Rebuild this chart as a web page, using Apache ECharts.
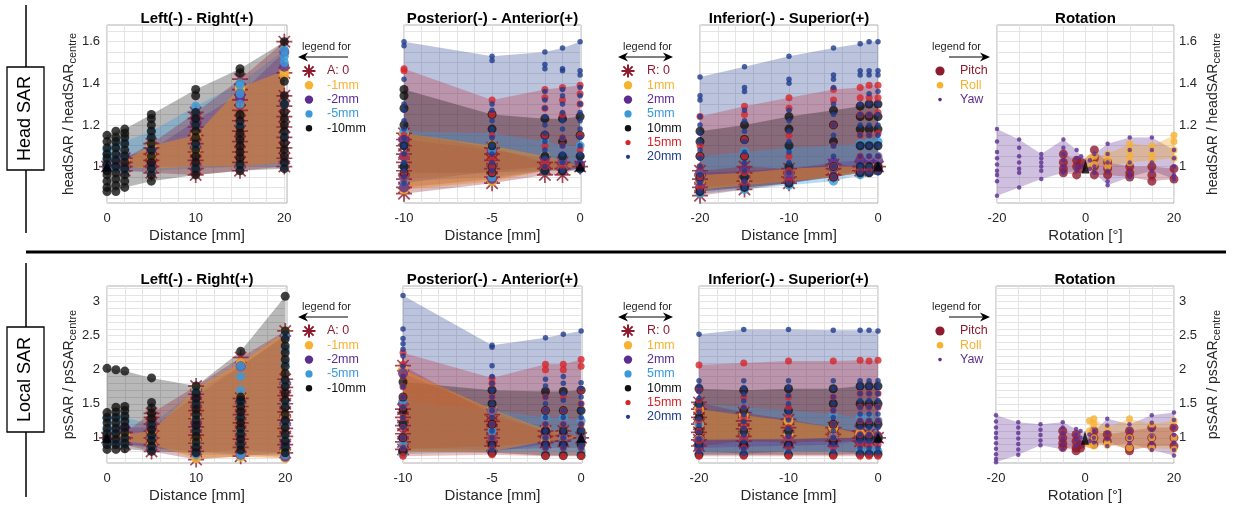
<!DOCTYPE html>
<html>
<head>
<meta charset="utf-8">
<script src="https://cdn.jsdelivr.net/npm/echarts@6.0.0/dist/echarts.min.js"></script>
<style>
html, body { margin: 0; padding: 0; background: #fff; }
#chart { width: 1237px; height: 510px; }
</style>
</head>
<body>
<div id="chart"></div>
<script>
// ---- tick labels / grid line positions ----
const xLabelsLR = [0, 10, 20];
const xLabelsPA = [-10, -5, 0];
const xLabelsIS = [-20, -10, 0];
const xLabelsRot = [-20, 0, 20];
const yLabelsHead = [1, 1.2, 1.4, 1.6];
const yLabelsLocal = [1, 1.5, 2, 2.5, 3];
const xGridLR = [0, 2, 4, 6, 8, 10, 12, 14, 16, 18, 20];
const xGridPA = [-10, -9, -8, -7, -6, -5, -4, -3, -2, -1, 0];
const xGridIS = [-20, -18, -16, -14, -12, -10, -8, -6, -4, -2, 0];
const xGridRot = [-20, -15, -10, -5, 0, 5, 10, 15, 20];
const yGridHead = [0.85, 0.9, 0.95, 1, 1.05, 1.1, 1.15, 1.2, 1.25, 1.3, 1.35, 1.4, 1.45, 1.5, 1.55, 1.6, 1.65];
const yGridLocal = [0.7, 0.8, 0.9, 1, 1.1, 1.2, 1.3, 1.4, 1.5, 1.6, 1.7, 1.8, 1.9, 2, 2.1, 2.2, 2.3, 2.4, 2.5, 2.6, 2.7, 2.8, 2.9, 3, 3.1, 3.2];

const titles = ['Left(-) - Right(+)', 'Posterior(-) - Anterior(+)', 'Inferior(-) - Superior(+)', 'Rotation'];
const xNames = ['Distance [mm]', 'Distance [mm]', 'Distance [mm]', 'Rotation [°]'];

const legendLR = [['A: 0', 'a0'], ['-1mm', 'm1'], ['-2mm', 'm2'], ['-5mm', 'm5'], ['-10mm', 'm10']];
const legendDist = [['R: 0', 'a0'], ['1mm', 'm1'], ['2mm', 'm2'], ['5mm', 'm5'], ['10mm', 'm10'], ['15mm', 'm15'], ['20mm', 'm20']];
const legendRot = [['Pitch', 'pitch'], ['Roll', 'roll'], ['Yaw', 'yaw']];

const centreX = [0];
const centreY = [1];

// ---- head SAR, left/right ----
const headLR_x = [0, 1, 2, 5, 10, 15, 20];
const headLR_a0 = [[1.0], [], [0.98, 1.0, 1.02, 1.04], [0.97, 1.0, 1.03, 1.06, 1.09, 1.11], [0.96, 0.99, 1.03, 1.07, 1.11, 1.15, 1.19, 1.23, 1.26], [0.98, 1.02, 1.07, 1.12, 1.17, 1.22, 1.27, 1.32, 1.37, 1.42], [1.0, 1.04, 1.09, 1.14, 1.19, 1.24, 1.29, 1.34, 1.45, 1.6]];
const headLR_1 = [[1.0], [1.01], [1.0, 1.03], [0.99, 1.05, 1.1], [1.0, 1.08, 1.15], [1.0, 1.2, 1.37, 1.38], [1.02, 1.3, 1.44, 1.46]];
const headLR_2 = [[1.0], [1.0, 1.03], [1.0, 1.05], [1.0, 1.08], [1.0, 1.1, 1.2, 1.22], [1.0, 1.2, 1.33, 1.35], [1.02, 1.3, 1.48, 1.55]];
const headLR_5 = [[0.98, 1.0, 1.03, 1.06, 1.08], [0.99, 1.04, 1.1], [0.98, 1.05, 1.12], [0.98, 1.08, 1.14, 1.17], [0.99, 1.1, 1.2, 1.26, 1.29], [1.0, 1.2, 1.3, 1.35, 1.39, 1.4], [1.0, 1.15, 1.3, 1.5, 1.53, 1.56]];
const headLR_10 = [[0.88, 0.9, 0.93, 0.96, 0.98, 1.01, 1.04, 1.06, 1.09, 1.12, 1.15], [0.88, 0.91, 0.94, 0.97, 1.0, 1.03, 1.06, 1.09, 1.12, 1.14, 1.17], [0.9, 0.93, 0.96, 0.99, 1.02, 1.05, 1.08, 1.11, 1.14, 1.16, 1.18], [0.93, 0.96, 0.99, 1.02, 1.05, 1.08, 1.11, 1.14, 1.17, 1.2, 1.23, 1.25], [0.96, 0.99, 1.02, 1.05, 1.08, 1.11, 1.14, 1.17, 1.2, 1.23, 1.26, 1.34, 1.37], [0.98, 1.01, 1.04, 1.07, 1.1, 1.13, 1.16, 1.19, 1.22, 1.25, 1.45, 1.47], [0.99, 1.02, 1.05, 1.08, 1.11, 1.14, 1.17, 1.2, 1.23, 1.26, 1.3, 1.34, 1.41, 1.6]];

// ---- head SAR, posterior/anterior ----
const headPA_x = [-10, -5, -2, -1, 0];
const headPA_r0 = [[0.87, 0.9, 0.94, 0.98, 1.02, 1.06, 1.1, 1.13, 1.16], [0.92, 0.95, 0.99, 1.03, 1.06, 1.09], [0.96, 0.99, 1.02], [0.96, 0.99, 1.02], [1.0]];
const headPA_1 = [[0.89, 0.95, 1.05, 1.16], [0.93, 1.0, 1.1], [0.98, 1.05], [0.99, 1.03], [1.0]];
const headPA_2 = [[0.9, 0.95, 1.05, 1.13], [0.94, 1.0, 1.08], [0.98, 1.04], [0.99, 1.03], [1.0, 1.01]];
const headPA_5 = [[0.93, 1.0, 1.1, 1.17], [0.95, 1.0, 1.08, 1.16], [0.98, 1.05, 1.12], [0.99, 1.05, 1.1], [0.99, 1.05, 1.1]];
const headPA_10 = [[0.97, 1.0, 1.1, 1.2, 1.28, 1.34, 1.37], [0.97, 1.0, 1.1, 1.18, 1.25], [0.98, 1.05, 1.15, 1.23], [0.98, 1.05, 1.12, 1.23], [0.99, 1.05, 1.15, 1.24]];
const headPA_15 = [[0.94, 0.97, 1.05, 1.15, 1.46, 1.47], [0.97, 1.0, 1.03, 1.15, 1.25, 1.32], [1.0, 1.03, 1.1, 1.15, 1.28, 1.33, 1.37], [1.0, 1.1, 1.14, 1.25, 1.32, 1.38], [1.01, 1.08, 1.15, 1.3, 1.35, 1.39]];
const headPA_20 = [[0.92, 0.95, 0.98, 1.02, 1.06, 1.1, 1.14, 1.18, 1.22, 1.27, 1.3, 1.42, 1.58, 1.6], [0.98, 1.02, 1.06, 1.1, 1.14, 1.18, 1.22, 1.27, 1.3, 1.51, 1.53], [1.0, 1.04, 1.08, 1.12, 1.16, 1.2, 1.24, 1.28, 1.32, 1.36, 1.47, 1.49, 1.55], [0.98, 1.02, 1.06, 1.1, 1.14, 1.18, 1.22, 1.26, 1.3, 1.34, 1.37, 1.46, 1.47, 1.57], [0.98, 1.02, 1.06, 1.1, 1.14, 1.18, 1.22, 1.26, 1.3, 1.34, 1.38, 1.44, 1.46, 1.6]];

// ---- head SAR, inferior/superior ----
const headIS_x = [-20, -15, -10, -5, -2, -1, 0];
const headIS_r0 = [[0.86, 0.9, 0.94, 0.98], [0.89, 0.93, 0.97, 1.0], [0.92, 0.95, 0.99], [0.96, 0.99, 1.01], [0.98, 1.0], [0.99], [1.0]];
const headIS_1 = [[0.89, 0.93, 0.96], [0.91, 0.94, 0.97], [0.93, 0.96, 0.99], [0.95, 0.98, 1.0], [0.97, 1.0], [0.98, 1.0], [1.0]];
const headIS_2 = [[0.9, 0.94, 0.97], [0.91, 0.95, 0.98], [0.93, 0.96, 0.99], [0.95, 0.99, 1.02], [0.97, 1.0, 1.03], [0.98, 1.03], [0.99, 1.03]];
const headIS_5 = [[0.87, 0.95, 1.05], [0.89, 0.95, 1.07], [0.91, 1.0, 1.09], [0.93, 1.0, 1.1], [0.96, 1.0, 1.11], [0.97, 1.05, 1.12], [0.98, 1.05, 1.12]];
const headIS_10 = [[0.88, 0.95, 1.05, 1.12, 1.17], [0.9, 0.95, 1.05, 1.13, 1.2], [0.92, 1.0, 1.1, 1.18, 1.24], [0.95, 1.0, 1.12, 1.2, 1.27], [0.97, 1.0, 1.1, 1.18, 1.24, 1.29], [0.97, 1.0, 1.1, 1.18, 1.24, 1.3], [0.98, 1.0, 1.1, 1.18, 1.24, 1.3]];
const headIS_15 = [[0.9, 0.95, 1.0, 1.05, 1.1, 1.24], [0.92, 0.97, 1.05, 1.13, 1.25, 1.29], [0.93, 0.98, 1.05, 1.15, 1.28, 1.33], [0.95, 1.0, 1.1, 1.2, 1.32, 1.37], [0.98, 1.05, 1.15, 1.25, 1.33, 1.38], [0.98, 1.05, 1.15, 1.25, 1.33, 1.39], [0.98, 1.05, 1.16, 1.26, 1.33, 1.39]];
const headIS_20 = [[0.88, 0.92, 0.96, 1.0, 1.04, 1.08, 1.12, 1.16, 1.2, 1.24, 1.32, 1.34, 1.43], [0.9, 0.93, 0.98, 1.02, 1.07, 1.12, 1.17, 1.22, 1.27, 1.36, 1.38, 1.48], [0.92, 0.97, 1.02, 1.07, 1.12, 1.17, 1.22, 1.27, 1.4, 1.42, 1.53], [0.95, 1.0, 1.05, 1.1, 1.15, 1.2, 1.25, 1.3, 1.38, 1.42, 1.44, 1.57], [0.97, 1.0, 1.05, 1.1, 1.15, 1.2, 1.25, 1.3, 1.44, 1.46, 1.59], [0.97, 1.0, 1.05, 1.1, 1.15, 1.2, 1.25, 1.3, 1.35, 1.44, 1.46, 1.6], [0.97, 1.0, 1.05, 1.1, 1.15, 1.2, 1.25, 1.3, 1.36, 1.44, 1.46, 1.6]];

// ---- head SAR, rotation ----
const headRot_x = [-20, -15, -10, -5, -2, -1, 1, 2, 5, 10, 15, 20];
const headRot_pitch = [[], [], [], [0.97, 0.99, 1.02, 1.06], [0.96, 1.0, 1.03], [0.99, 1.02], [], [0.96, 1.0, 1.04, 1.08], [0.96, 0.99, 1.02], [0.95, 0.97, 1.0], [0.93, 0.96, 1.0], [0.94, 0.99]];
const headRot_roll = [[], [], [], [], [], [], [1.0, 1.04], [1.01, 1.05], [1.0, 1.03, 1.06], [1.02, 1.05, 1.08, 1.11], [1.03, 1.06, 1.1], [1.04, 1.08, 1.12, 1.15]];
const headRot_yaw = [[0.86, 0.93, 0.96, 0.98, 1.01, 1.04, 1.07, 1.12, 1.18], [0.9, 0.97, 0.99, 1.02, 1.05, 1.09, 1.13], [0.94, 0.98, 1.0, 1.02, 1.04, 1.06], [0.97, 0.98, 1.0, 1.03, 1.06, 1.09, 1.13], [0.98, 1.0, 1.04, 1.08], [1.0, 1.05], [0.99, 1.03], [0.97, 1.0, 1.06], [0.91, 0.93, 0.98, 1.02, 1.06, 1.11], [0.95, 0.97, 1.02, 1.08, 1.14], [0.98, 1.02, 1.08, 1.14], [0.94, 0.96, 1.0, 1.04, 1.08]];

// ---- local SAR, left/right ----
const localLR_x = [0, 1, 2, 5, 10, 15, 20];
const localLR_a0 = [[1.0], [], [0.9, 1.0, 1.08], [0.8, 0.9, 1.0, 1.1, 1.2, 1.3, 1.36], [0.68, 0.8, 0.92, 1.04, 1.16, 1.28, 1.4, 1.52, 1.64, 1.76], [0.73, 0.86, 0.98, 1.1, 1.22, 1.34, 1.46, 1.58, 2.18], [0.78, 0.9, 1.02, 1.14, 1.26, 1.38, 1.5, 1.62, 1.74, 1.86, 2.57]];
const localLR_1 = [[1.0], [1.0], [0.95, 1.05], [0.9, 1.0, 1.1], [0.7, 0.95, 1.3, 1.72], [0.72, 1.0, 1.6, 2.1], [0.7, 0.8, 1.3, 1.8, 2.55]];
const localLR_2 = [[1.0], [0.95, 1.1], [0.92, 1.15], [0.85, 1.0, 1.15], [0.8, 1.2, 1.62], [0.75, 1.0, 1.55, 2.05], [0.72, 0.9, 1.25, 1.8, 2.5]];
const localLR_5 = [[0.9, 0.95, 1.1, 1.28], [0.92, 1.1, 1.3], [0.9, 1.0, 1.3], [0.85, 1.0, 1.2], [0.75, 0.9, 1.1, 1.3, 1.5, 1.7], [0.75, 0.9, 1.1, 1.3, 1.5, 1.7, 1.9, 2.05], [0.75, 0.85, 1.0, 1.2, 1.5, 1.8, 2.1, 2.3, 2.5]];
const localLR_10 = [[0.83, 0.9, 0.98, 1.06, 1.14, 1.22, 1.3, 1.37, 2.02], [0.83, 0.9, 0.98, 1.06, 1.14, 1.22, 1.3, 1.38, 1.45, 2.0], [0.84, 0.92, 1.0, 1.08, 1.16, 1.24, 1.32, 1.4, 1.46, 1.98], [0.8, 0.88, 0.96, 1.04, 1.12, 1.2, 1.28, 1.36, 1.44, 1.52, 1.88], [0.78, 0.86, 0.94, 1.02, 1.1, 1.18, 1.26, 1.34, 1.42, 1.5, 1.58, 1.66, 1.76], [0.82, 0.9, 0.98, 1.06, 1.14, 1.22, 1.3, 1.38, 1.46, 1.54, 1.6, 2.27], [0.78, 0.86, 0.95, 1.05, 1.15, 1.25, 1.35, 1.45, 1.55, 1.65, 1.75, 1.85, 1.95, 2.05, 2.15, 2.25, 2.35, 2.45, 2.57, 3.08]];

// ---- local SAR, posterior/anterior ----
const localPA_x = [-10, -5, -2, -1, 0];
const localPA_r0 = [[0.83, 0.94, 1.06, 1.18, 1.3, 1.42, 2.06], [0.88, 1.0, 1.12, 1.24, 1.34], [0.93, 1.02, 1.1], [0.95, 1.03, 1.1], [1.0]];
const localPA_1 = [[0.78, 1.0, 1.5, 2.0], [0.8, 1.0, 1.42], [0.95, 1.12], [0.97, 1.08], [1.0]];
const localPA_2 = [[0.8, 1.0, 1.5, 1.95], [0.8, 1.0, 1.4], [0.9, 1.1], [0.95, 1.05], [1.0]];
const localPA_5 = [[0.76, 0.9, 1.2, 1.55], [0.8, 1.1, 1.4], [0.8, 1.0, 1.3], [0.8, 1.0, 1.3], [0.8, 1.0, 1.25]];
const localPA_10 = [[0.8, 1.0, 1.2, 1.4, 1.6, 1.82], [0.78, 0.9, 1.2, 1.5, 1.7], [0.74, 0.9, 1.1, 1.4, 1.68], [0.74, 0.9, 1.1, 1.4, 1.68], [0.74, 0.9, 1.1, 1.4, 1.7]];
const localPA_15 = [[0.73, 0.85, 1.0, 1.15, 1.3, 1.45, 1.6, 1.75, 1.9, 2.08, 2.25], [0.75, 0.85, 1.0, 1.2, 1.4, 1.6, 1.8, 1.88], [0.73, 0.85, 1.0, 1.2, 1.4, 1.6, 2.0, 2.08], [0.73, 0.85, 1.0, 1.2, 1.4, 1.6, 2.0, 2.08], [0.73, 0.85, 1.0, 1.2, 1.5, 1.7, 2.05, 2.15]];
const localPA_20 = [[0.85, 1.0, 1.15, 1.3, 1.45, 1.6, 1.75, 1.9, 2.05, 2.2, 2.3, 2.38, 2.46, 2.6, 3.09], [0.82, 0.9, 1.0, 1.1, 1.2, 1.3, 1.4, 1.5, 1.6, 1.7, 1.8, 1.9, 2.06, 2.33, 2.36], [0.85, 0.9, 1.0, 1.1, 1.2, 1.3, 1.4, 1.5, 1.6, 1.76, 1.86, 2.47], [0.85, 0.9, 1.0, 1.1, 1.2, 1.3, 1.4, 1.55, 1.65, 1.8, 1.9, 2.52], [0.85, 0.9, 1.0, 1.1, 1.2, 1.3, 1.4, 1.5, 1.6, 1.72, 1.81, 2.57]];

// ---- local SAR, inferior/superior ----
const localIS_x = [-20, -15, -10, -5, -2, -1, 0];
const localIS_r0 = [[0.88, 0.97, 1.08, 1.2, 1.3, 1.42, 1.52], [0.95, 1.02, 1.13, 1.25, 1.37], [0.93, 1.03, 1.15, 1.27], [0.95, 1.05, 1.15], [0.95, 1.0, 1.1], [0.97, 1.05], [1.0]];
const localIS_1 = [[0.97, 1.2, 1.42], [0.98, 1.1, 1.33], [0.98, 1.05, 1.25], [1.0, 1.15], [1.0, 1.06], [1.0, 1.03], [1.0]];
const localIS_2 = [[0.85, 0.96], [0.87, 0.97], [0.88, 0.98], [0.9, 0.99], [0.95, 1.0], [0.97, 1.0], [1.0]];
const localIS_5 = [[0.77, 0.9, 1.2, 1.5], [0.8, 1.1, 1.45], [0.8, 1.1, 1.4], [0.8, 1.0, 1.35], [0.8, 1.0, 1.3], [0.8, 1.0, 1.3], [0.8, 1.0, 1.25]];
const localIS_10 = [[0.75, 0.9, 1.1, 1.3, 1.5, 1.72], [0.75, 0.9, 1.1, 1.4, 1.7], [0.75, 0.9, 1.1, 1.4, 1.72], [0.75, 0.95, 1.2, 1.5, 1.72], [0.76, 1.0, 1.2, 1.5, 1.76], [0.76, 1.0, 1.2, 1.5, 1.76], [0.76, 1.0, 1.2, 1.5, 1.76]];
const localIS_15 = [[0.73, 0.82, 0.95, 1.1, 1.25, 1.4, 1.55, 1.7, 2.07], [0.73, 0.85, 1.0, 1.15, 1.3, 1.45, 1.6, 2.1], [0.73, 0.85, 1.0, 1.15, 1.3, 1.45, 1.6, 2.13], [0.73, 0.85, 1.0, 1.2, 1.4, 1.6, 2.13], [0.73, 0.9, 1.05, 1.25, 1.45, 1.65, 2.14], [0.73, 0.9, 1.05, 1.25, 1.45, 1.65, 2.13], [0.73, 0.9, 1.05, 1.25, 1.45, 1.65, 2.14]];
const localIS_20 = [[0.8, 0.88, 0.98, 1.08, 1.18, 1.28, 1.38, 1.48, 1.58, 1.68, 1.76, 1.84, 2.52], [0.77, 0.84, 0.94, 1.04, 1.14, 1.24, 1.34, 1.44, 1.54, 1.64, 1.74, 1.84, 2.59], [0.8, 0.9, 1.02, 1.14, 1.26, 1.38, 1.5, 1.62, 1.74, 1.84, 2.59], [0.8, 0.9, 1.0, 1.1, 1.2, 1.3, 1.4, 1.5, 1.6, 1.72, 1.84, 2.58], [0.78, 0.85, 0.95, 1.05, 1.15, 1.25, 1.35, 1.45, 1.55, 1.65, 1.75, 1.84, 2.58], [0.78, 0.85, 0.95, 1.05, 1.15, 1.25, 1.35, 1.45, 1.55, 1.65, 1.75, 1.84, 2.58], [0.78, 0.85, 0.95, 1.05, 1.15, 1.25, 1.35, 1.45, 1.55, 1.65, 1.75, 1.84, 2.57]];

// ---- local SAR, rotation ----
const localRot_x = [-20, -15, -10, -5, -2, -1, 1, 2, 5, 10, 15, 20];
const localRot_pitch = [[], [], [], [0.86, 0.92, 1.0, 1.1], [0.81, 0.85, 0.95, 1.05], [0.85, 0.9], [], [0.9, 1.0, 1.1], [0.95, 1.05], [0.81, 0.85, 1.0, 1.1], [0.88, 1.0, 1.15], [0.88, 1.0, 1.15]];
const localRot_roll = [[], [], [], [], [], [], [0.9, 1.1, 1.25], [0.88, 1.0, 1.2, 1.28], [0.89, 0.92, 1.15], [0.85, 1.0, 1.28], [0.85, 1.0, 1.2], [0.83, 1.0, 1.25]];
const localRot_yaw = [[0.64, 0.69, 0.76, 0.84, 0.92, 1.0, 1.07, 1.15, 1.24, 1.33], [0.75, 0.83, 0.91, 0.99, 1.07, 1.15, 1.23], [0.89, 0.96, 1.04, 1.12, 1.2], [0.83, 0.91, 0.99, 1.07, 1.15, 1.23], [0.88, 0.97, 1.05, 1.13], [0.92, 1.0, 1.1], [0.95, 1.05], [0.93, 1.0, 1.1], [0.88, 0.98, 1.08, 1.18, 1.28], [0.92, 1.0, 1.1, 1.2], [0.82, 0.92, 1.02, 1.12, 1.22, 1.33], [0.74, 0.82, 0.93, 1.04, 1.15, 1.26, 1.37]];

// ---- styles ----
const FONT = 'Liberation Sans, Arial, Helvetica, sans-serif';
const COL = {
  a0: '#8E1B2E', m1: '#F6B331', m2: '#5C2D91', m5: '#3A9AD9', m10: '#111111',
  m15: '#D7262B', m20: '#1F3B8C', pitch: '#8E1B2E', roll: '#F6B331', yaw: '#5C2D91'
};
const FILL = {
  a0: 'rgba(142,27,46,0.3)', m1: 'rgba(235,140,30,0.5)', m2: 'rgba(92,45,145,0.3)',
  m5: 'rgba(58,154,217,0.35)', m10: 'rgba(0,0,0,0.28)', m15: 'rgba(190,40,60,0.3)',
  m20: 'rgba(31,59,140,0.3)', pitch: 'rgba(142,27,46,0.3)', roll: 'rgba(240,160,40,0.35)', yaw: 'rgba(92,45,145,0.3)'
};
const SIZE = { a0: 16, m1: 10, m2: 10, m5: 9, m10: 9, m15: 7, m20: 5.5, pitch: 9, roll: 7, yaw: 4.5 };
const LEG_R = { m1: 4.2, m2: 4.2, m5: 3.6, m10: 3.2, m15: 2.6, m20: 2.1, pitch: 4.6, roll: 3.3, yaw: 1.8 };
const ASTERISK = 'path://M0,-10L0,10M-10,0L10,0M-7.07,-7.07L7.07,7.07M-7.07,7.07L7.07,-7.07';
const DOT_ORDER = ['a0', 'm1', 'm2', 'm5', 'm10', 'm15', 'm20'];
const BAND_ORDER = ['m20', 'm15', 'm10', 'm5', 'm2', 'a0', 'm1'];
const ROT_DOTS = ['pitch', 'roll', 'yaw'];
const ROT_BANDS = ['yaw', 'pitch', 'roll'];

const panels = [
  { xs: headLR_x, groups: { a0: headLR_a0, m1: headLR_1, m2: headLR_2, m5: headLR_5, m10: headLR_10 } },
  { xs: headPA_x, groups: { a0: headPA_r0, m1: headPA_1, m2: headPA_2, m5: headPA_5, m10: headPA_10, m15: headPA_15, m20: headPA_20 } },
  { xs: headIS_x, groups: { a0: headIS_r0, m1: headIS_1, m2: headIS_2, m5: headIS_5, m10: headIS_10, m15: headIS_15, m20: headIS_20 } },
  { xs: headRot_x, rot: true, groups: { pitch: headRot_pitch, roll: headRot_roll, yaw: headRot_yaw } },
  { xs: localLR_x, groups: { a0: localLR_a0, m1: localLR_1, m2: localLR_2, m5: localLR_5, m10: localLR_10 } },
  { xs: localPA_x, groups: { a0: localPA_r0, m1: localPA_1, m2: localPA_2, m5: localPA_5, m10: localPA_10, m15: localPA_15, m20: localPA_20 } },
  { xs: localIS_x, groups: { a0: localIS_r0, m1: localIS_1, m2: localIS_2, m5: localIS_5, m10: localIS_10, m15: localIS_15, m20: localIS_20 } },
  { xs: localRot_x, rot: true, groups: { pitch: localRot_pitch, roll: localRot_roll, yaw: localRot_yaw } }
];

const grids = [
  { left: 107, top: 25, width: 180, height: 178 },
  { left: 404, top: 25, width: 177, height: 178 },
  { left: 700, top: 25, width: 178, height: 178 },
  { left: 997, top: 25, width: 177, height: 178 },
  { left: 107, top: 286, width: 180, height: 177 },
  { left: 403, top: 286, width: 179, height: 177 },
  { left: 699, top: 286, width: 179, height: 177 },
  { left: 996, top: 286, width: 178, height: 177 }
];
const xRange = [[0, 20.3], [-10, 0.05], [-20, 0], [-20, 20]];
const xGrids = [xGridLR, xGridPA, xGridIS, xGridRot];
const xLabels = [xLabelsLR, xLabelsPA, xLabelsIS, xLabelsRot];

// 区间带：上下包络多边形
function bandRenderer(rows, fill) {
  return function (params, api) {
    if (params.dataIndex !== 0) return null;
    const top = rows.map(r => api.coord([r[0], r[2]]));
    const bot = rows.slice().reverse().map(r => api.coord([r[0], r[1]]));
    return { type: 'polygon', shape: { points: top.concat(bot) }, style: { fill: fill } };
  };
}

// ---- series ----
const series = [];
panels.forEach((p, g) => {
  const bandKeys = p.rot ? ROT_BANDS : BAND_ORDER;
  const dotKeys = p.rot ? ROT_DOTS : DOT_ORDER;
  bandKeys.forEach(k => {
    const cols = p.groups[k];
    if (!cols) return;
    const rows = [];
    p.xs.forEach((x, i) => {
      const c = cols[i];
      if (!c || !c.length) return;
      rows.push([x, Math.min(...c), Math.max(...c)]);
    });
    series.push({
      type: 'custom', xAxisIndex: g, yAxisIndex: g, data: rows,
      encode: { x: 0, y: [1, 2] },
      renderItem: bandRenderer(rows, FILL[k]), silent: true, z: 1
    });
  });
  dotKeys.forEach(k => {
    const cols = p.groups[k];
    if (!cols) return;
    const pts = [];
    p.xs.forEach((x, i) => (cols[i] || []).forEach(v => pts.push([x, v])));
    const ast = k === 'a0';
    series.push({
      type: 'scatter', xAxisIndex: g, yAxisIndex: g, data: pts,
      symbol: ast ? ASTERISK : 'circle', symbolSize: SIZE[k],
      itemStyle: ast ? { color: 'rgba(0,0,0,0)', borderColor: COL[k], borderWidth: 1.7 } : { color: COL[k] },
      clip: false, silent: true, z: 2
    });
  });
  // 中心位置
  series.push({
    type: 'scatter', xAxisIndex: g, yAxisIndex: g, data: [[centreX[0], centreY[0]]],
    symbol: 'triangle', symbolSize: p.rot ? [8, 14] : 10, itemStyle: { color: '#000' },
    clip: false, silent: true, z: 3
  });
});

// ---- axes ----
const xAxis = grids.map((gr, g) => {
  const c = g % 4;
  return {
    gridIndex: g, type: 'value', min: g === 4 ? 0 : xRange[c][0], max: g === 4 ? 20.2 : xRange[c][1],
    name: xNames[c], nameLocation: 'middle', nameGap: 25,
    nameTextStyle: { fontSize: 15, color: '#262626' },
    axisLine: { show: false },
    axisTick: { show: false, customValues: xGrids[c] },
    axisLabel: { customValues: xLabels[c], fontSize: 13, color: '#262626', margin: 9 },
    splitLine: { show: true, lineStyle: { color: '#e4e4e4', width: 1 } }
  };
});
const yAxis = grids.map((gr, g) => {
  const head = g < 4;
  const c = g % 4;
  const showLabel = c === 0 || c === 3;
  const nm = head ? '{a|headSAR / headSAR}{b|centre}' : '{a|psSAR / psSAR}{b|centre}';
  return {
    gridIndex: g, type: 'value', position: c === 3 ? 'right' : 'left',
    min: head ? 0.825 : 0.63, max: head ? 1.68 : 3.23,
    name: showLabel ? nm : '', nameLocation: 'middle', nameRotate: 90, nameGap: c === 3 ? 30 : 29,
    nameTextStyle: {
      color: '#262626',
      rich: {
        a: { fontSize: 14, color: '#262626', lineHeight: 16, verticalAlign: 'top', fontFamily: FONT },
        b: { fontSize: 11, color: '#262626', lineHeight: 12, padding: [10, 0, 0, 0], verticalAlign: 'bottom', fontFamily: FONT }
      }
    },
    axisLine: { show: false },
    axisTick: { show: false, customValues: head ? yGridHead : yGridLocal },
    axisLabel: { show: showLabel, customValues: head ? yLabelsHead : yLabelsLocal, fontSize: 13, color: '#262626', margin: c === 3 ? 5 : 7 },
    splitLine: { show: true, lineStyle: { color: '#e4e4e4', width: 1 } }
  };
});

// ---- titles ----
const title = grids.map((gr, g) => ({
  text: titles[g % 4], left: gr.left + gr.width / 2, top: g < 4 ? 11 : 272, textAlign: 'center', padding: 0,
  textStyle: { fontSize: 15, fontWeight: 'bold', color: '#000', fontFamily: FONT }
}));

// ---- legends, labels, separator ----
const graphics = [];
graphics.push({ type: 'line', shape: { x1: 26, y1: 252, x2: 1226, y2: 252 }, style: { stroke: '#000', lineWidth: 3 } });

function rowLabel(text, y1, y2, by1, by2) {
  graphics.push({ type: 'line', shape: { x1: 26, y1: y1, x2: 26, y2: y2 }, style: { stroke: '#000', lineWidth: 1.5 } });
  graphics.push({ type: 'rect', shape: { x: 7, y: by1, width: 37, height: by2 - by1 }, style: { fill: '#fff', stroke: '#000', lineWidth: 1.3 } });
  graphics.push({
    type: 'text', x: 25.5, y: (by1 + by2) / 2, rotation: Math.PI / 2,
    style: { text: text, fill: '#000', font: '18px ' + FONT, align: 'center', verticalAlign: 'middle', textAlign: 'center', textVerticalAlign: 'middle' }
  });
}
rowLabel('Head SAR', 5, 233, 67, 170);
rowLabel('Local SAR', 263, 497, 327, 432);

function arrowHead(tx, ty, d) {
  return { type: 'polygon', shape: { points: [[tx, ty], [tx - d * 10, ty - 4.5], [tx - d * 7, ty], [tx - d * 10, ty + 4.5]] }, style: { fill: '#000' } };
}
function legendBlock(tx, ty, ax1, ax2, heads, items, mx, lx) {
  graphics.push({
    type: 'text', x: tx, y: ty,
    style: { text: 'legend for', fill: '#262626', font: '11px ' + FONT, align: 'left', verticalAlign: 'middle', textAlign: 'left', textVerticalAlign: 'middle' }
  });
  const ay = ty + 10;
  graphics.push({ type: 'line', shape: { x1: ax1 + 4, y1: ay, x2: ax2 - 4, y2: ay }, style: { stroke: '#000', lineWidth: 1 } });
  if (heads === 'left' || heads === 'both') graphics.push(arrowHead(ax1, ay, -1));
  if (heads === 'right' || heads === 'both') graphics.push(arrowHead(ax2, ay, 1));
  items.forEach((it, i) => {
    const y = ty + 24 + i * 14.3;
    const k = it[1];
    if (k === 'a0') {
      const r = 6.5, q = 4.6;
      [[0, -r, 0, r], [-r, 0, r, 0], [-q, -q, q, q], [-q, q, q, -q]].forEach(s => {
        graphics.push({ type: 'line', shape: { x1: mx + s[0], y1: y + s[1], x2: mx + s[2], y2: y + s[3] }, style: { stroke: COL.a0, lineWidth: 2 } });
      });
    } else {
      graphics.push({ type: 'circle', shape: { cx: mx, cy: y, r: LEG_R[k] }, style: { fill: COL[k] } });
    }
    graphics.push({
      type: 'text', x: lx, y: y,
      style: { text: it[0], fill: COL[k], font: '12.5px ' + FONT, align: 'left', verticalAlign: 'middle', textAlign: 'left', textVerticalAlign: 'middle' }
    });
  });
}
[47, 307].forEach(ty => {
  legendBlock(302, ty, 298, 352, 'left', legendLR, 309, 327);
  legendBlock(623, ty, 618, 673, 'both', legendDist, 628, 647);
  legendBlock(932, ty, 945, 990, 'right', legendRot, 940, 960);
});

const chart = echarts.init(document.getElementById('chart'));
chart.setOption({
  animation: false,
  backgroundColor: '#fff',
  textStyle: { fontFamily: FONT },
  title: title,
  grid: grids.map(gr => Object.assign({ show: true, borderColor: '#b0b0b0', borderWidth: 1, backgroundColor: '#fff' }, gr)),
  xAxis: xAxis,
  yAxis: yAxis,
  series: series,
  graphic: { elements: graphics }
});
</script>
</body>
</html>
